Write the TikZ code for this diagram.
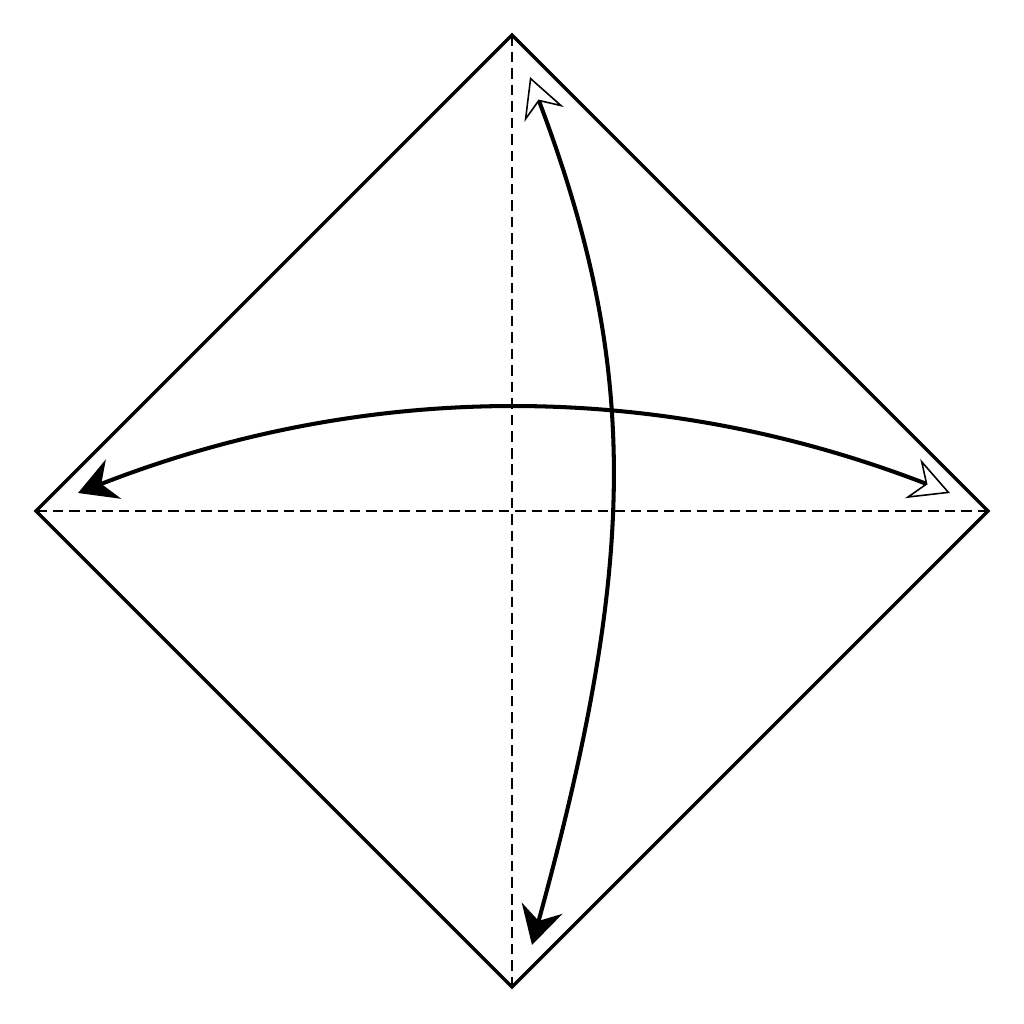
\documentclass[tikz,border=0pt]{standalone}
\usepackage{tikz}
\usetikzlibrary{arrows.meta}

\begin{document}
\begin{tikzpicture}[
    edge/.style={line width=1pt, line join=miter},
    fold/.style={line width=0.8pt, dash pattern=on 3pt off 1.7pt},
    move/.style={line width=1.15pt},
    flip/.style={{Stealth[open, fill=white, length=0.4cm, width=0.42cm, inset=0.14cm, line width=0.45pt]}-{Stealth[length=0.38cm, width=0.42cm, inset=0.13cm]}}
]
    \useasboundingbox (0, 0) rectangle (10.24, 10.24);

    \coordinate (top) at (5.12, 9.89);
    \coordinate (right) at (9.88, 5.13);
    \coordinate (bottom) at (5.12, 0.37);
    \coordinate (left) at (0.36, 5.13);

    \coordinate (htip) at (9.50, 5.31);
    \coordinate (hend) at (0.78, 5.31);
    \coordinate (vtip) at (5.30, 9.47);
    \coordinate (vend) at (5.32, 0.79);

    \draw[fold] (top) -- (bottom);
    \draw[fold] (left) -- (right);

    \draw[edge] (top) -- (right) -- (bottom) -- (left) -- cycle;

    \draw[move, flip] (htip) .. controls (6.58, 6.44) and (3.67, 6.44) .. (hend);
    \draw[move, flip] (vtip) .. controls (6.39, 6.58) and (6.39, 4.68) .. (vend);
\end{tikzpicture}
\end{document}
